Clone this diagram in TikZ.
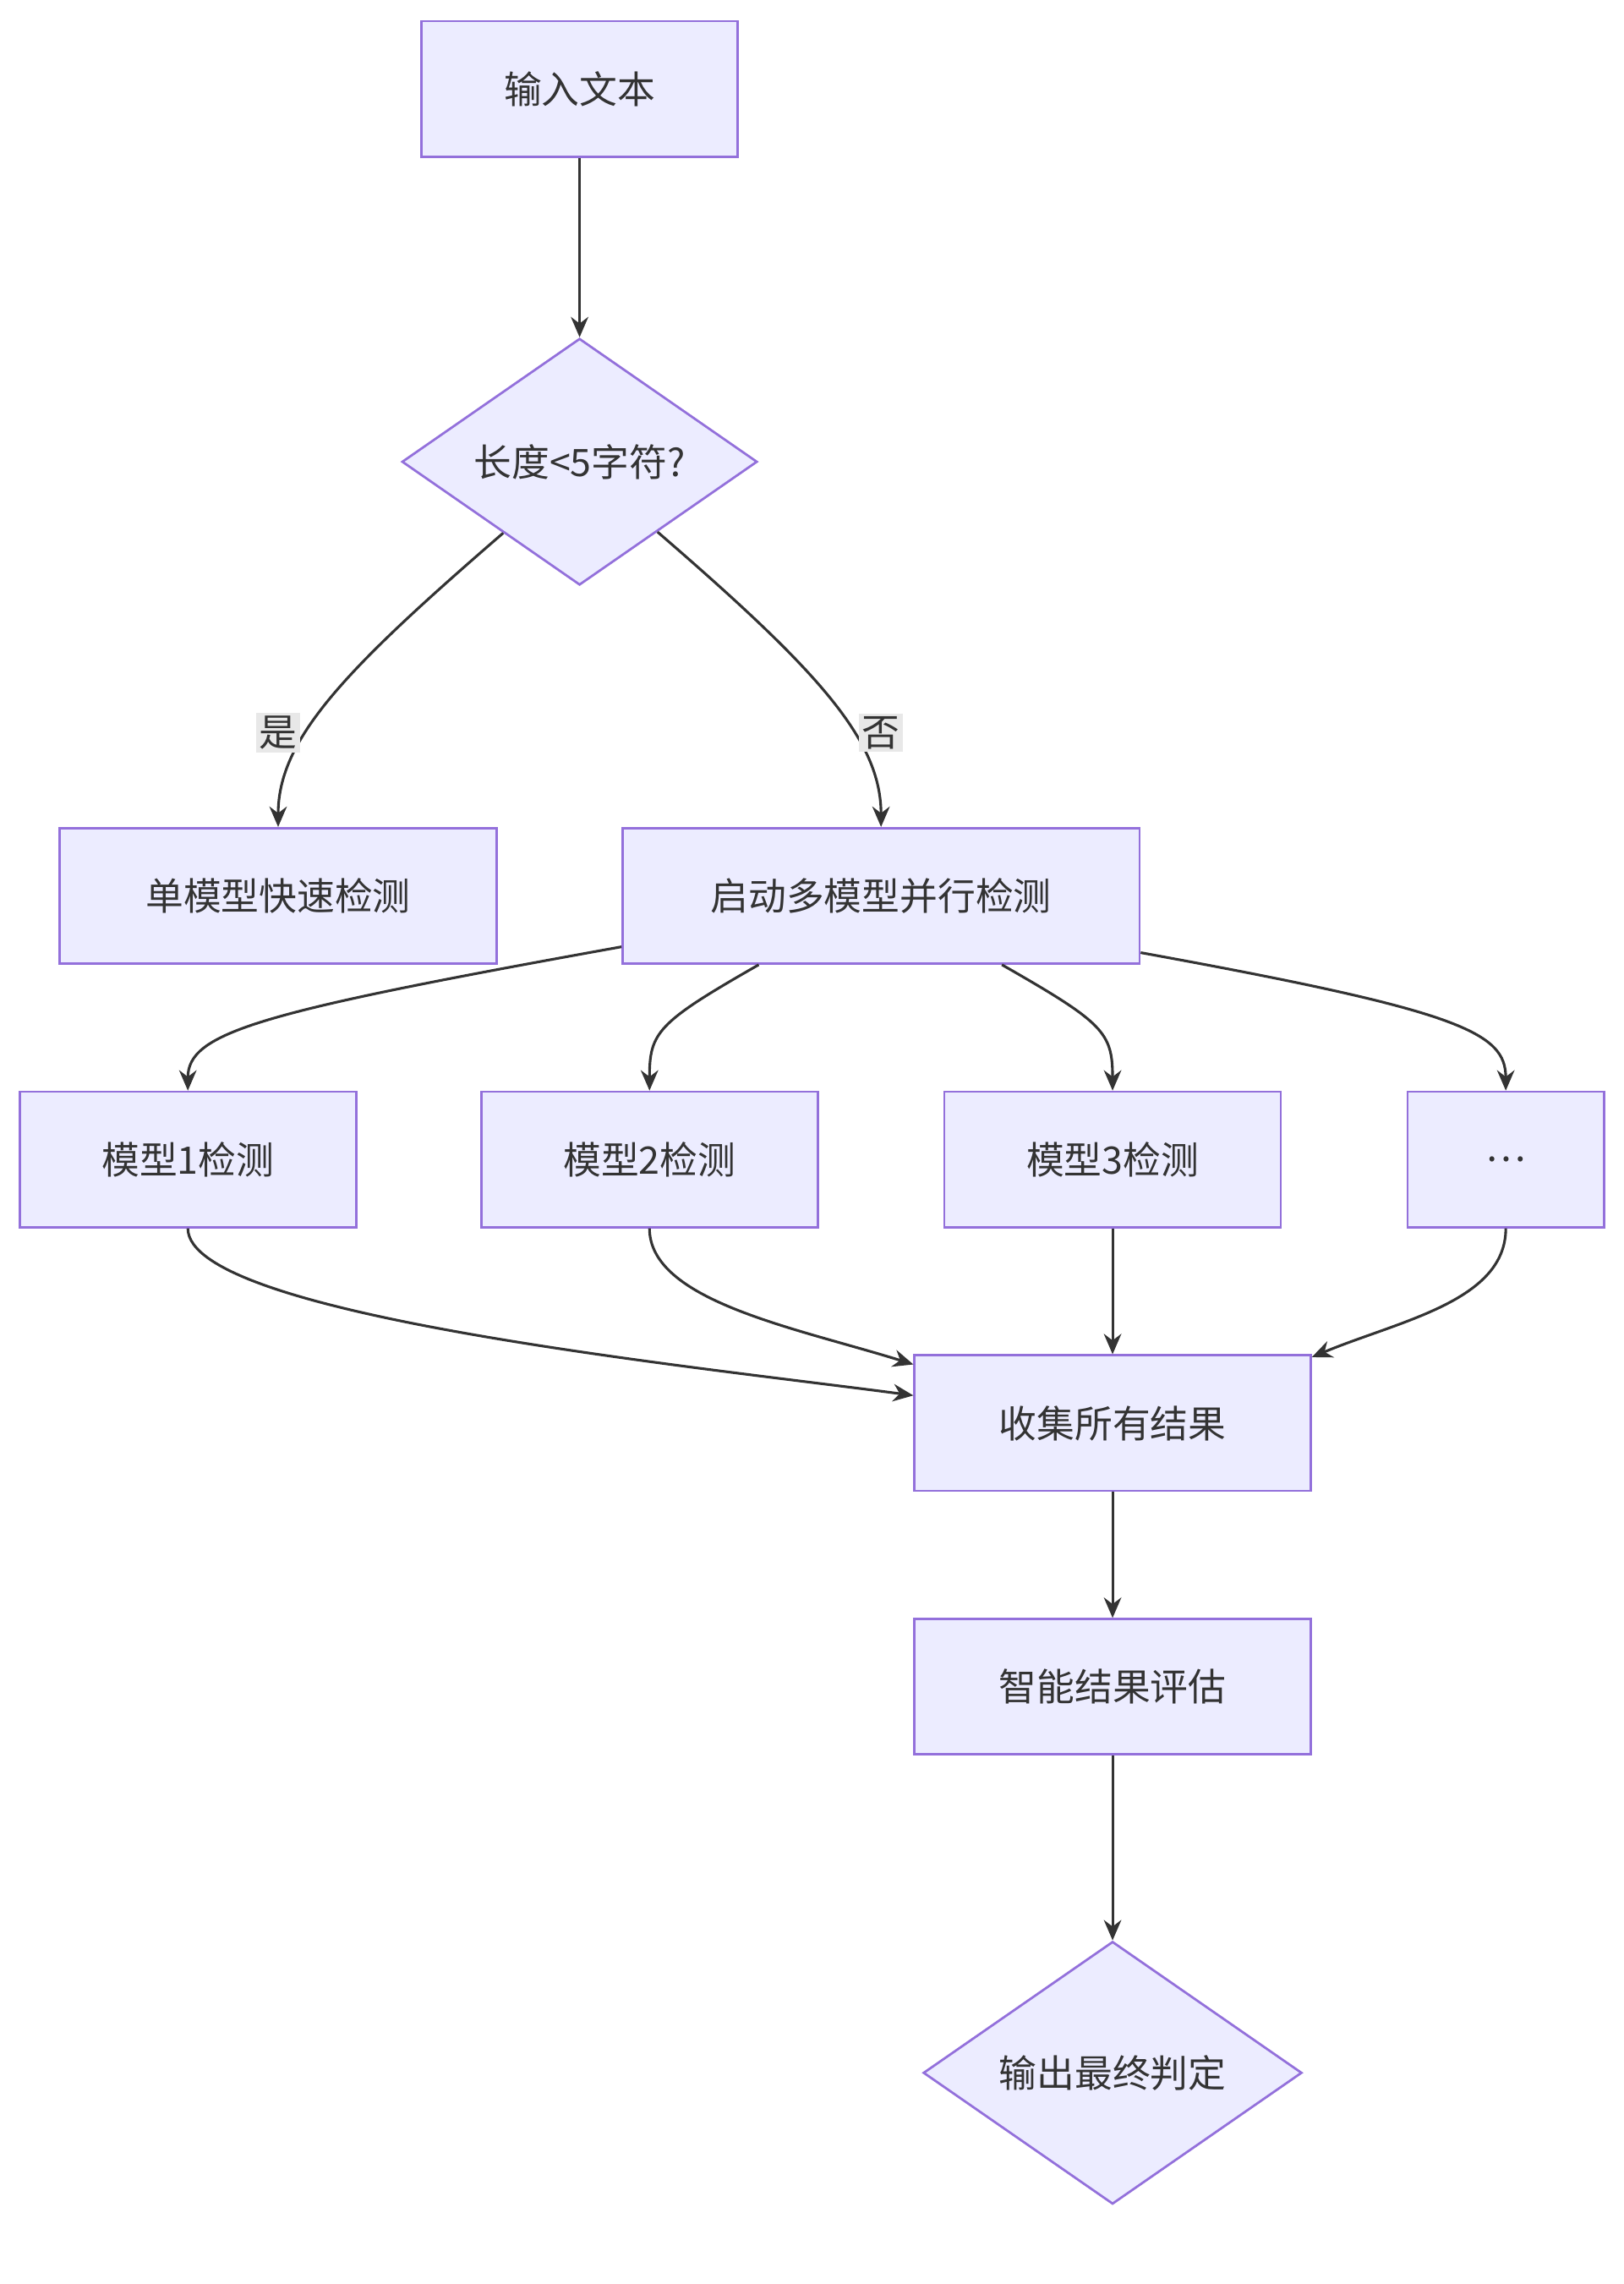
\documentclass[tikz,border=0pt]{standalone}
\usepackage{fontspec}
\setmainfont{Noto Sans CJK SC}
\usetikzlibrary{shapes.geometric,calc,arrows.meta}
\definecolor{nfill}{HTML}{ECECFF}
\definecolor{nline}{HTML}{9370DB}
\definecolor{eline}{HTML}{333333}
\definecolor{lbg}{HTML}{E8E8E8}
\begin{document}
\begin{tikzpicture}[x=0.5pt,y=-0.5pt,
  box/.style={draw=nline,fill=nfill,line width=0.8pt,minimum height=46.5pt,inner sep=0pt,font=\fontsize{13}{15}\selectfont,text=eline},
  dia/.style={draw=nline,fill=nfill,line width=0.8pt,diamond,aspect=1,inner sep=0pt,font=\fontsize{13}{15}\selectfont,text=eline},
  e/.style={draw=eline,line width=0.9pt,-{Stealth[length=7pt,width=6pt]}},
  lab/.style={fill=lbg,inner sep=1pt,font=\fontsize{13}{15}\selectfont,text=eline}]
\useasboundingbox (0,0) rectangle (1115,1568);
\node[box,minimum width=108.5pt] (in) at (398,61) {输入文本};
\node[dia,minimum width=122pt] (d1) at (398,317) {长度<5字符?};
\node[box,minimum width=150pt] (single) at (191,615) {单模型快速检测};
\node[box,minimum width=177.5pt] (s) at (605,615) {启动多模型并行检测};
\node[box,minimum width=115.5pt] (m1) at (129,796) {模型1检测};
\node[box,minimum width=115.5pt] (m2) at (446,796) {模型2检测};
\node[box,minimum width=115.5pt] (m3) at (764,796) {模型3检测};
\node[box,minimum width=67.5pt] (m4) at (1034,796) {…};
\node[box,minimum width=136pt] (col) at (764,977) {收集所有结果};
\node[box,minimum width=136pt] (ev) at (764,1158) {智能结果评估};
\node[dia,minimum width=130pt] (d2) at (764,1423) {输出最终判定};

\draw[e] (in.south) -- (d1.north);
\draw[e] (d1.223) .. controls +(-110,95) and +(0,-60) .. (single.north);
\draw[e] (d1.318) .. controls +(110,95) and +(0,-60) .. (s.north);
\node[lab] (yes) at (191,503) {是};
\node[lab] (no) at (605,503) {否};
\draw[e] ($(s.west)+(0,35)$) .. controls +(-250,45) and +(0,-40) .. (m1.north);
\draw[e] ($(s.south)+(-84,0)$) .. controls +(-70,40) and +(0,-40) .. (m2.north);
\draw[e] ($(s.south)+(83,0)$) .. controls +(70,40) and +(0,-40) .. (m3.north);
\draw[e] ($(s.east)+(0,39)$) .. controls +(220,40) and +(0,-40) .. (m4.north);
\draw[e] (m1.south) .. controls +(0,60) and +(-150,-20) .. ($(col.west)+(0,-19)$);
\draw[e] (m2.south) .. controls +(0,50) and +(-80,-25) .. ($(col.north west)+(0,7)$);
\draw[e] (m3.south) -- (col.north);
\draw[e] (m4.south) .. controls +(0,50) and +(60,-25) .. ($(col.north east)+(0,2)$);
\draw[e] (col.south) -- (ev.north);
\draw[e] (ev.south) -- (d2.north);
\end{tikzpicture}
\end{document}
